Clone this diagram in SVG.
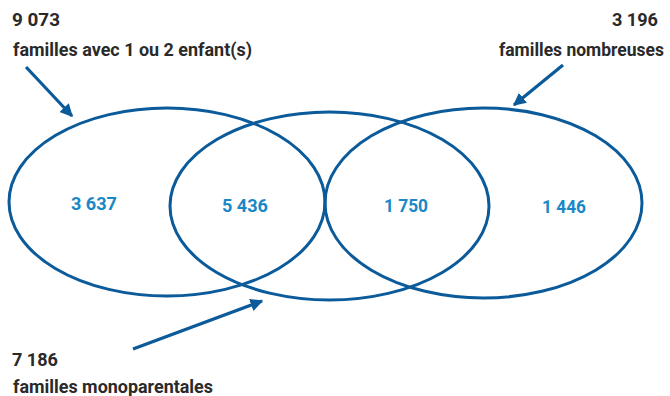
<svg xmlns="http://www.w3.org/2000/svg" width="670" height="396" viewBox="0 0 670 396">
<style>
.e{fill:none;stroke:#0b5a9a;stroke-width:3}
.c{stroke:#0b5a9a;stroke-width:3.2;fill:none}
.lab{font-family:Roboto,"Liberation Sans",sans-serif;font-weight:700;font-size:17.5px;fill:#2a2a2a}
.num{font-family:Roboto,"Liberation Sans",sans-serif;font-weight:700;font-size:18px;fill:#1a88c6;text-anchor:middle}
</style>
<defs>
<marker id="ah" viewBox="0 0 10 10" refX="9" refY="5" markerWidth="4" markerHeight="4" orient="auto" markerUnits="strokeWidth">
<path d="M0,0 L10,5 L0,10 z" fill="#0b5a9a"/>
</marker>
</defs>
<rect width="670" height="396" fill="#fff"/>
<g id="set-enfants"><ellipse class="e" cx="167" cy="202" rx="158" ry="94"/></g>
<g id="set-mono"><ellipse class="e" cx="329.5" cy="206" rx="159.5" ry="94"/></g>
<g id="set-nombreuses"><ellipse class="e" cx="483.5" cy="203" rx="158.5" ry="95"/></g>
<g id="regions">
<text class="num" x="94" y="210" textLength="46" lengthAdjust="spacingAndGlyphs">3 637</text>
<text class="num" x="245" y="212" textLength="46" lengthAdjust="spacingAndGlyphs">5 436</text>
<text class="num" x="406" y="212" textLength="44" lengthAdjust="spacingAndGlyphs">1 750</text>
<text class="num" x="564" y="213" textLength="44" lengthAdjust="spacingAndGlyphs">1 446</text>
</g>
<g id="label-enfants">
<text class="lab" x="12" y="26" textLength="48" lengthAdjust="spacingAndGlyphs">9 073</text>
<text class="lab" x="13" y="56" textLength="239" lengthAdjust="spacingAndGlyphs">familles avec 1 ou 2 enfant(s)</text>
</g>
<g id="label-nombreuses">
<text class="lab" x="658" y="26" text-anchor="end" textLength="46" lengthAdjust="spacingAndGlyphs">3 196</text>
<text class="lab" x="664" y="56" text-anchor="end" textLength="165" lengthAdjust="spacingAndGlyphs">familles nombreuses</text>
</g>
<g id="label-mono">
<text class="lab" x="12" y="366" textLength="46" lengthAdjust="spacingAndGlyphs">7 186</text>
<text class="lab" x="13" y="393" textLength="200" lengthAdjust="spacingAndGlyphs">familles monoparentales</text>
</g>
<g id="connectors">
<line class="c" x1="26" y1="67" x2="72" y2="116" marker-end="url(#ah)"/>
<line class="c" x1="563" y1="65" x2="514" y2="105" marker-end="url(#ah)"/>
<line class="c" x1="133" y1="349" x2="262" y2="301" marker-end="url(#ah)"/>
</g>
</svg>
